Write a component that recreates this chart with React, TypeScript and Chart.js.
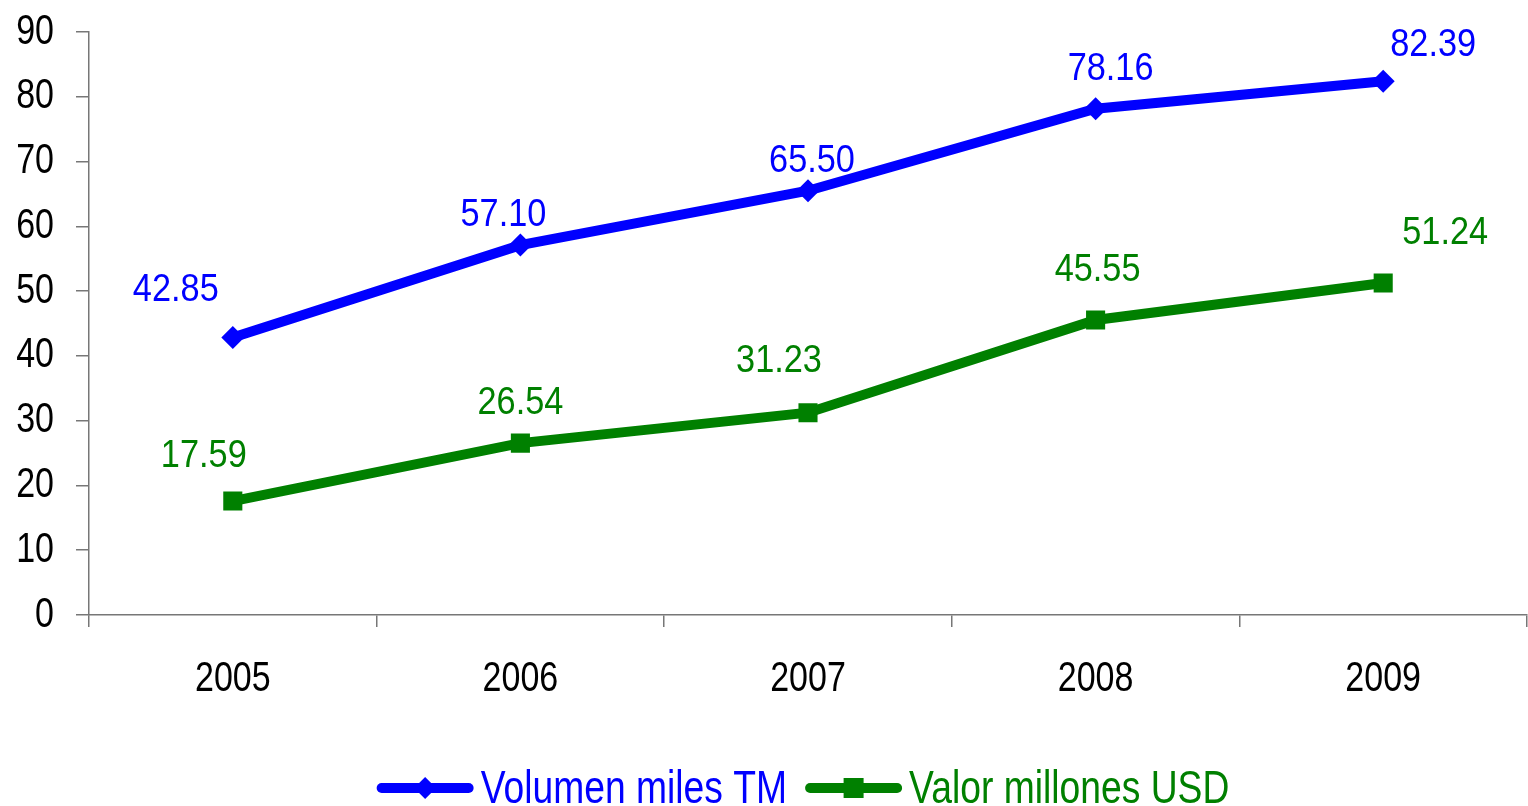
import { useEffect, useRef } from "react";
import { Chart, registerables } from "chart.js";

Chart.register(...registerables);

const years = ["2005", "2006", "2007", "2008", "2009"];
const volumen = [42.85, 57.1, 65.5, 78.16, 82.39];
const valor = [17.59, 26.54, 31.23, 45.55, 51.24];
const seriesNames = ["Volumen miles TM", "Valor millones USD"];
const yMin = 0;
const yMax = 90;
const yStep = 10;

// label placement (style only): offset of label centre from its point
const volumenLabelOffsets = [[-57, -50], [-17, -33], [4, -33], [15, -43], [50, -39]];
const valorLabelOffsets = [[-29, -48], [0, -43], [-29, -55], [2, -53], [62, -53]];

const FONT = '"Liberation Sans", Arial, sans-serif';
const NARROW = 0.81; // horizontal squeeze to mimic a narrow face
let textScaleX = NARROW;

function narrowText(ctx: CanvasRenderingContext2D) {
  const orig = ctx.fillText.bind(ctx);
  (ctx as any).fillText = (text: string, x: number, y: number, maxWidth?: number) => {
    ctx.save();
    ctx.translate(x, y);
    ctx.scale(textScaleX, 1);
    if (maxWidth !== undefined) orig(text, 0, 0, maxWidth / textScaleX);
    else orig(text, 0, 0);
    ctx.restore();
  };
}

const dataLabelPlugin = {
  id: "dataLabels",
  afterDatasetsDraw(chart: any) {
    const ctx = chart.ctx;
    const size = 39;
    chart.data.datasets.forEach((ds: any, i: number) => {
      const meta = chart.getDatasetMeta(i);
      const offs = ds.labelOffsets;
      ctx.save();
      textScaleX = 0.88;
      ctx.font = `${size}px ${FONT}`;
      ctx.fillStyle = ds.borderColor;
      ctx.textAlign = "center";
      ctx.textBaseline = "alphabetic";
      meta.data.forEach((el: any, j: number) => {
        const v = ds.data[j] as number;
        ctx.fillText(v.toFixed(2), el.x + offs[j][0], el.y + offs[j][1] + 0.358 * size);
      });
      textScaleX = NARROW;
      ctx.restore();
    });
  },
};

const legendPlugin = {
  id: "lineLegend",
  afterDraw(chart: any) {
    const ctx = chart.ctx;
    const lineW = 97;
    const gapText = 7;
    const gapItem = 18;
    const lineY = 788;
    const baseY = 803;
    ctx.save();
    textScaleX = NARROW;
    ctx.font = `46px ${FONT}`;
    const items = chart.data.datasets.map((ds: any) => ({
      label: ds.label,
      color: ds.borderColor,
      style: ds.pointStyle,
      w: ctx.measureText(ds.label).width * NARROW,
    }));
    const total =
      items.reduce((s: number, it: any) => s + lineW + gapText + it.w, 0) + gapItem * (items.length - 1);
    const ca = chart.chartArea;
    let x = (ca.left + ca.right) / 2 - 5 - total / 2;
    items.forEach((it: any) => {
      ctx.strokeStyle = it.color;
      ctx.fillStyle = it.color;
      ctx.lineWidth = 10;
      ctx.lineCap = "round";
      ctx.beginPath();
      ctx.moveTo(x + 5, lineY);
      ctx.lineTo(x + lineW - 5, lineY);
      ctx.stroke();
      const cx = x + lineW / 2;
      ctx.beginPath();
      if (it.style === "rectRot") {
        const r = 11;
        ctx.moveTo(cx, lineY - r);
        ctx.lineTo(cx + r, lineY);
        ctx.lineTo(cx, lineY + r);
        ctx.lineTo(cx - r, lineY);
        ctx.closePath();
      } else {
        const h = 10;
        ctx.rect(cx - h, lineY - h, 2 * h, 2 * h);
      }
      ctx.fill();
      ctx.textAlign = "left";
      ctx.textBaseline = "alphabetic";
      ctx.fillText(it.label, x + lineW + gapText, baseY);
      x += lineW + gapText + it.w + gapItem;
    });
    ctx.restore();
  },
};

export default function App() {
  const ref = useRef<HTMLCanvasElement | null>(null);

  useEffect(() => {
    document.documentElement.style.overflow = "hidden";
    document.body.style.overflow = "hidden";
    if (!ref.current) return;
    const ctx = ref.current.getContext("2d") as CanvasRenderingContext2D;
    narrowText(ctx);
    const chart = new Chart(ctx, {
      type: "line",
      data: {
        labels: years,
        datasets: [
          {
            label: seriesNames[0],
            data: volumen,
            borderColor: "#0000FF",
            backgroundColor: "#0000FF",
            borderWidth: 10,
            pointStyle: "rectRot",
            pointRadius: 11.5,
            pointBorderWidth: 0,
            tension: 0,
            labelOffsets: volumenLabelOffsets,
          } as any,
          {
            label: seriesNames[1],
            data: valor,
            borderColor: "#008000",
            backgroundColor: "#008000",
            borderWidth: 10,
            pointStyle: "rect",
            pointRadius: 13.5,
            pointBorderWidth: 0,
            tension: 0,
            labelOffsets: valorLabelOffsets,
          } as any,
        ],
      },
      options: {
        animation: false,
        responsive: true,
        maintainAspectRatio: false,
        layout: { autoPadding: false, padding: { top: 32, right: 1, left: 0, bottom: 0 } },
        plugins: {
          legend: { display: false },
          tooltip: { enabled: false },
        },
        scales: {
          x: {
            offset: true,
            grid: { offset: true, drawOnChartArea: false, tickLength: 12, color: "#777", lineWidth: 1.5 },
            border: { color: "#777", width: 1.5 },
            ticks: { color: "#000", font: { family: FONT, size: 42 }, padding: 27 },
            afterFit: (s: any) => {
              s.height = 191;
              s.paddingLeft = 0;
              s.paddingRight = 0;
            },
          },
          y: {
            min: yMin,
            max: yMax,
            grid: { drawOnChartArea: false, tickLength: 13, color: "#777", lineWidth: 1.5 },
            border: { color: "#777", width: 1.5 },
            ticks: { stepSize: yStep, color: "#000", font: { family: FONT, size: 42 }, padding: 22 },
            afterFit: (s: any) => {
              s.width = 89;
              s.paddingTop = 0;
              s.paddingBottom = 0;
            },
          },
        },
      },
      plugins: [dataLabelPlugin, legendPlugin],
    });
    return () => {
      chart.destroy();
    };
  }, []);

  return (
    <div
      style={{
        position: "absolute",
        left: 0,
        top: 0,
        width: 1528,
        height: 806,
        overflow: "hidden",
        background: "#fff",
      }}
    >
      <canvas ref={ref} style={{ display: "block" }} />
    </div>
  );
}
